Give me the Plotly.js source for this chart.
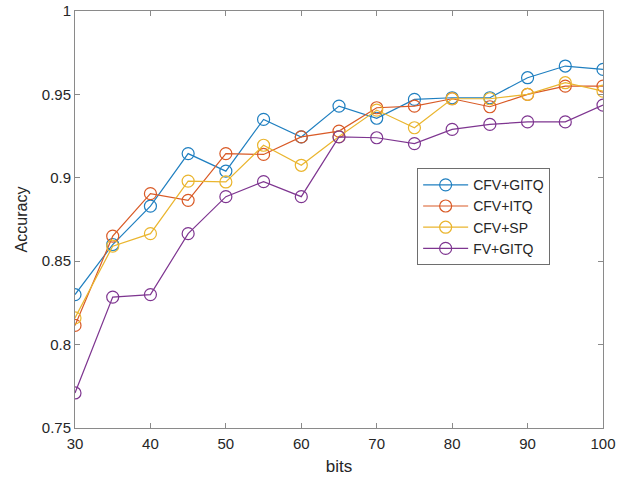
<!DOCTYPE html>
<html>
<head>
<meta charset="utf-8">
<script src="https://cdn.plot.ly/plotly-3.0.1.min.js"></script>
<style>html,body{margin:0;padding:0;background:#fff;}#chart{width:629px;height:477px;}</style>
</head>
<body>
<div id="chart"></div>
<script>
var bits = [30, 35, 40, 45, 50, 55, 60, 65, 70, 75, 80, 85, 90, 95, 100];
var cfvGitq = [0.830, 0.860, 0.883, 0.9145, 0.904, 0.935, 0.9245, 0.943, 0.9357, 0.947, 0.948, 0.948, 0.960, 0.967, 0.965];
var cfvItq  = [0.8115, 0.865, 0.8905, 0.8865, 0.9145, 0.914, 0.9245, 0.928, 0.942, 0.943, 0.9474, 0.9426, 0.950, 0.955, 0.955];
var cfvSp   = [0.816, 0.859, 0.8665, 0.898, 0.8975, 0.9195, 0.9075, 0.9247, 0.9406, 0.930, 0.9474, 0.9474, 0.950, 0.957, 0.952];
var fvGitq  = [0.771, 0.8285, 0.830, 0.8665, 0.8887, 0.8977, 0.8887, 0.9245, 0.924, 0.9205, 0.929, 0.932, 0.9335, 0.9335, 0.9436];
var names = ['CFV+GITQ', 'CFV+ITQ', 'CFV+SP', 'FV+GITQ'];
var colors = ['#1f7fc0', '#d95a26', '#eab52e', '#7e3590'];
var series = [cfvGitq, cfvItq, cfvSp, fvGitq];
var yTicks = [0.75, 0.8, 0.85, 0.9, 0.95, 1];
var yTickText = ['0.75', '0.8', '0.85', '0.9', '0.95', '1'];
var xTicks = [30, 40, 50, 60, 70, 80, 90, 100];

var traces = series.map(function (s, i) {
  return {
    x: bits, y: s, name: names[i], type: 'scatter', mode: 'lines+markers',
    line: {color: colors[i], width: 1.2},
    marker: {symbol: 'circle-open', size: 12, color: colors[i], line: {width: 1.2, color: colors[i]}}
  };
});

var fam = 'Liberation Sans, Arial, sans-serif';
var axisCommon = {
  showgrid: false, zeroline: false, showline: true, linecolor: '#8a8a8a', linewidth: 1,
  mirror: 'ticks', ticks: 'inside', ticklen: 5, tickcolor: '#8a8a8a', automargin: false,
  tickfont: {family: fam, size: 15, color: '#262626'}
};

var layout = {
  width: 629, height: 477,
  margin: {l: 75, r: 26, t: 11, b: 49},
  paper_bgcolor: '#ffffff', plot_bgcolor: '#ffffff',
  xaxis: Object.assign({}, axisCommon, {
    range: [30, 100], tickmode: 'array', tickvals: xTicks, ticklabelstandoff: 2,
    title: {text: 'bits', font: {family: fam, size: 17, color: '#262626'}, standoff: 9}
  }),
  yaxis: Object.assign({}, axisCommon, {
    range: [0.75, 1], tickmode: 'array', tickvals: yTicks, ticktext: yTickText,
    title: {text: 'Accuracy', font: {family: fam, size: 16, color: '#262626'}, standoff: 10}
  }),
  legend: {
    x: 0.648, y: 0.623, xanchor: 'left', yanchor: 'top',
    bordercolor: '#6e6e6e', borderwidth: 1, bgcolor: '#ffffff',
    font: {family: fam, size: 14, color: '#262626'},
    tracegroupgap: 0, itemwidth: 45
  },
  showlegend: true
};

Plotly.newPlot('chart', traces, layout, {displayModeBar: false, staticPlot: true});
</script>
</body>
</html>
